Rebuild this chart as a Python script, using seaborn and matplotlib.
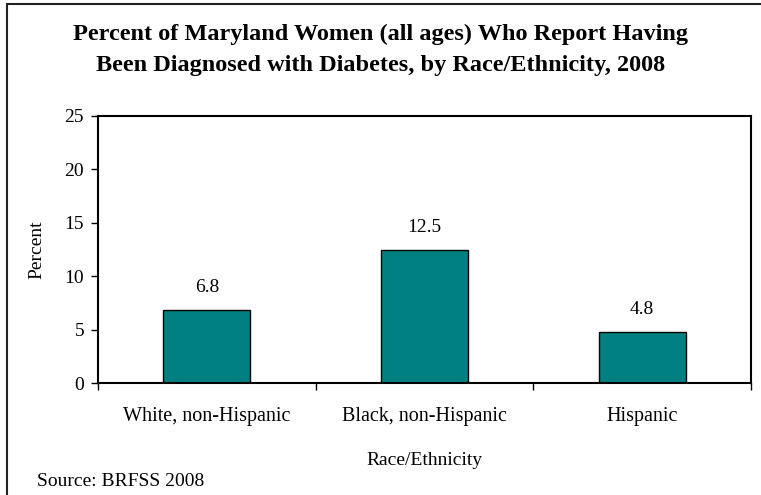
import matplotlib.pyplot as plt
import pandas as pd
import seaborn as sns
from matplotlib.lines import Line2D

# values
groups = ["White, non-Hispanic", "Black, non-Hispanic", "Hispanic"]
percent = [6.8, 12.5, 4.8]
yticks = [0, 5, 10, 15, 20, 25]

df = pd.DataFrame({"group": groups, "percent": percent})

sns.set_theme(style="white")
plt.rcParams["font.family"] = ["Liberation Serif", "DejaVu Serif"]
plt.rcParams.update({"text.color": "black", "axes.labelcolor": "black",
                     "xtick.color": "black", "ytick.color": "black"})

fig = plt.figure(figsize=(7.61, 4.95), dpi=100)
ax = fig.add_axes([98 / 761, 1 - 383 / 495, (751 - 98) / 761, (383 - 116) / 495])

sns.barplot(data=df, x="group", y="percent", color="#008080", saturation=1,
            width=0.4, edgecolor="black", linewidth=1, ax=ax)

ax.set_ylim(0, 25)
ax.set_xlim(-0.5, 2.5)
ax.set_yticks(yticks)
ax.set_yticklabels([str(t) for t in yticks], fontsize=14)
ax.tick_params(axis="y", direction="out", length=5, width=1, color="black", left=True, pad=5)
ax.tick_params(axis="x", which="major", length=0, labelsize=14.5, pad=17)
ax.set_xticks([-0.5, 0.5, 1.5, 2.5], minor=True)
ax.tick_params(axis="x", which="minor", direction="out", length=5, width=1, color="black", bottom=True)

for s in ax.spines.values():
    s.set_color("black")
    s.set_linewidth(1.5)

for i, v in enumerate(percent):
    ax.annotate(f"{v}", (i, v), xytext=(0, 10), textcoords="offset points",
                ha="center", va="bottom", fontsize=14)

ax.set_xlabel("Race/Ethnicity", fontsize=14, labelpad=19)
ax.set_ylabel("Percent", fontsize=14, labelpad=14)

fig.text(0.5, 1 - 34 / 495, "Percent of Maryland Women (all ages) Who Report Having",
         ha="center", va="center", fontsize=17.5, fontweight="bold")
fig.text(0.5, 1 - 66 / 495, "Been Diagnosed with Diabetes, by Race/Ethnicity, 2008",
         ha="center", va="center", fontsize=17.5, fontweight="bold")
fig.text(37 / 761, 1 - 482 / 495, "Source: BRFSS 2008", ha="left", va="center", fontsize=14)

# outer frame (only left and top edges fall inside the image)
fig.add_artist(Line2D([7 / 761, 7 / 761], [0, 1 - 4 / 495], color="#222222", lw=1.5))
fig.add_artist(Line2D([7 / 761, 1], [1 - 4 / 495, 1 - 4 / 495], color="#222222", lw=1.5))

fig.savefig("out.png", dpi=100)
